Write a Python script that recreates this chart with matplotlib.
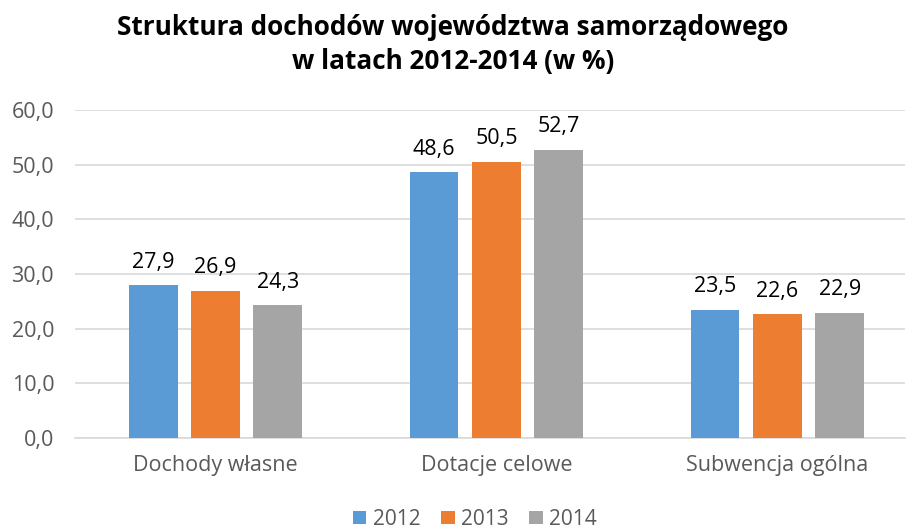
import matplotlib.pyplot as plt
import numpy as np

categories = ["Dochody własne", "Dotacje celowe", "Subwencja ogólna"]
years = ["2012", "2013", "2014"]
values_2012 = [27.9, 48.6, 23.5]
values_2013 = [26.9, 50.5, 22.6]
values_2014 = [24.3, 52.7, 22.9]
colors = ["#5B9BD5", "#ED7D31", "#A5A5A5"]

plt.rcParams["font.family"] = ["Open Sans", "DejaVu Sans"]

fig = plt.figure(figsize=(9.06, 5.31), dpi=100)
ax = fig.add_axes([0.0828, 0.175, 0.916, 0.618])

x = np.arange(len(categories))
width = 0.174
step = 0.222

for i, (vals, year) in enumerate(zip([values_2012, values_2013, values_2014], years)):
    pos = x + (i - 1) * step
    bars = ax.bar(pos, vals, width, color=colors[i], label=year, zorder=3)
    for b, v in zip(bars, vals):
        ax.annotate(f"{v:.1f}".replace(".", ","),
                    (b.get_x() + b.get_width() / 2, v),
                    xytext=(0, 9), textcoords="offset points",
                    ha="center", va="bottom", fontsize=15.5, color="#000000")

ax.set_ylim(0, 60)
ax.set_xlim(-0.5, 2.454)
ax.set_yticks(np.arange(0, 61, 10))
ax.set_yticklabels([f"{t:.1f}".replace(".", ",") for t in np.arange(0, 61, 10)])
ax.set_xticks(x)
ax.set_xticklabels(categories)
ax.tick_params(axis="both", length=0, labelsize=15.5, colors="#595959")
ax.tick_params(axis="x", pad=12)
ax.tick_params(axis="y", pad=15)
ax.grid(axis="y", color="#D9D9D9", linewidth=1.2, zorder=0)
for s in ["top", "right", "left"]:
    ax.spines[s].set_visible(False)
ax.spines["bottom"].set_color("#D9D9D9")
ax.spines["bottom"].set_linewidth(1.2)

fig.text(0.5, 0.916, "Struktura dochodów województwa samorządowego\nw latach 2012-2014 (w %)",
         ha="center", va="center", fontsize=18.8, fontweight="bold", color="#000000",
         linespacing=1.3)

fig.legend(loc="center", bbox_to_anchor=(0.524, 0.022), ncol=3, frameon=False,
           fontsize=15, handlelength=0.65, handleheight=0.65, handletextpad=0.3,
           columnspacing=1.0, labelcolor="#595959")

fig.savefig("out.png", dpi=100)
